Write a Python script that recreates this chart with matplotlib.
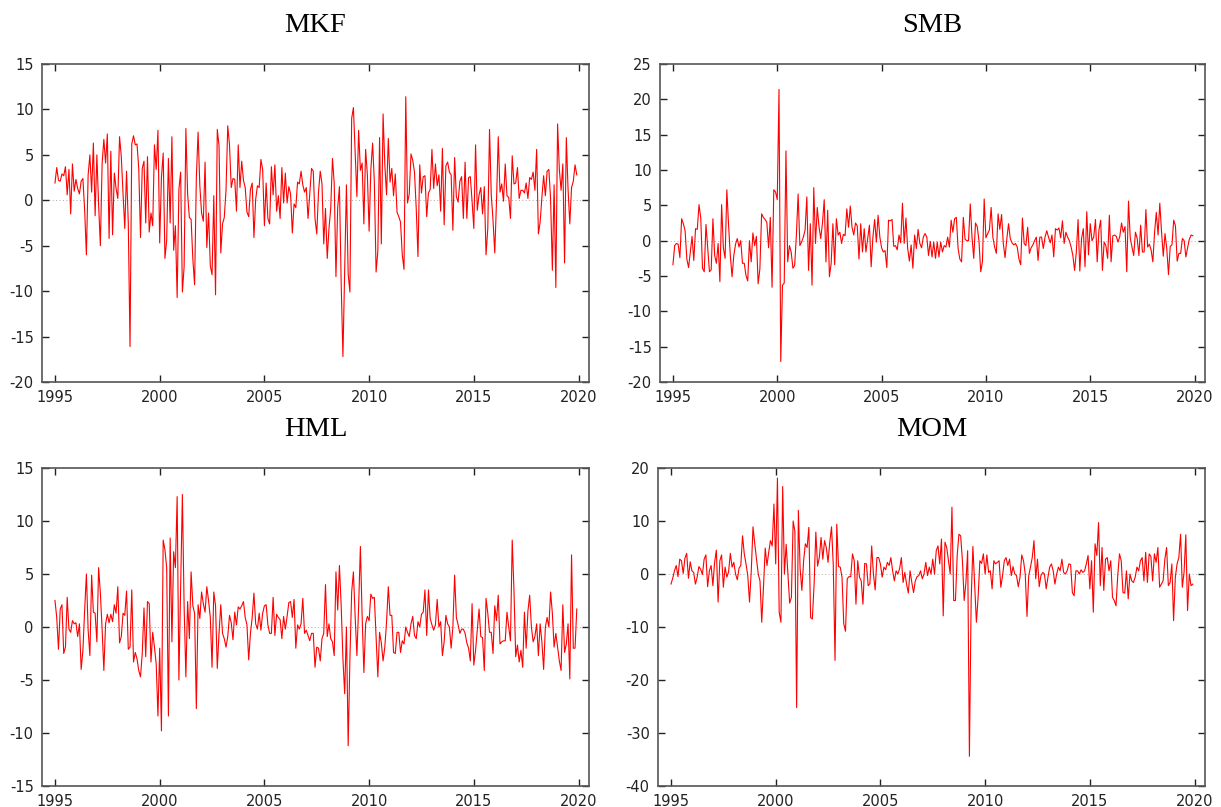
import numpy as np
import matplotlib
matplotlib.use('Agg')
import matplotlib.pyplot as plt

plt.rcParams['axes.unicode_minus'] = False

# ── Monthly factor returns, 1995:01 - 2019:12 (one row per year) ─────────────
mkf = [
    1.9, 3.6, 2.2, 2.1, 2.9, 2.7, 3.7, 0.6, 3.4, -1.5, 4.0, 1.0,
    2.3, 1.3, 0.7, 2.1, 2.4, -1.1, -6.0, 2.8, 5.0, 0.9, 6.3, -1.7,
    5.0, -0.5, -5.0, 4.0, 6.7, 4.1, 7.3, -4.2, 5.4, -3.8, 3.0, 1.3,
    0.2, 7.0, 4.8, 0.7, -3.1, 3.2, -2.5, -16.1, 6.2, 7.1, 6.1, 6.2,
    3.5, -4.1, 3.5, 4.3, -2.5, 4.8, -3.5, -1.4, -2.8, 6.1, 3.4, 7.7,
    -4.7, 2.5, 5.2, -6.4, -4.4, 4.6, -2.5, 7.0, -5.5, -2.8, -10.7, 1.2,
    3.1, -10.1, -7.3, 7.9, 0.7, -1.9, -2.1, -6.5, -9.3, 2.5, 7.5, 1.6,
    -1.4, -2.3, 4.2, -5.2, -1.4, -7.2, -8.2, 0.5, -10.4, 7.8, 6.0, -5.8,
    -2.6, -1.9, 1.1, 8.2, 6.1, 1.4, 2.4, 2.3, -1.2, 6.1, 1.4, 4.3,
    2.2, 1.4, -1.3, -1.8, 1.2, 1.9, -4.1, 0.1, 1.6, 1.4, 4.5, 3.4,
    -2.8, 1.9, -2.0, -2.6, 3.7, 0.6, 3.9, -1.2, 0.5, -2.0, 3.6, -0.3,
    3.0, -0.3, 1.5, 0.7, -3.6, -0.4, -0.8, 2.0, 1.8, 3.2, 1.7, 0.9,
    1.4, -2.0, 0.7, 3.5, 3.2, -2.0, -3.7, 0.9, 3.2, 1.8, -4.8, -0.9,
    -6.4, -3.1, -0.9, 4.6, 1.9, -8.4, -0.8, 1.5, -9.2, -17.2, -7.9, 1.7,
    -8.1, -10.1, 9.0, 10.2, 5.2, 0.4, 7.7, 3.3, 4.1, -2.6, 5.6, 2.8,
    -3.4, 3.4, 6.3, 2.0, -7.9, -5.6, 6.9, -4.8, 9.5, 3.9, 0.6, 6.8,
    2.0, 3.5, 0.5, 2.9, -1.3, -1.8, -2.4, -6.0, -7.6, 11.4, -0.3, 0.7,
    5.1, 4.4, 3.1, -0.9, -6.2, 3.9, 0.8, 2.6, 2.7, -1.8, 0.8, 1.2,
    5.6, 1.3, 4.0, 1.6, 2.8, -1.2, 5.7, -2.7, 3.8, 4.2, 3.1, 2.8,
    -3.3, 4.7, 0.4, -0.2, 2.1, 2.6, -2.0, 4.2, -2.0, 2.5, 2.6, -0.1,
    -3.1, 6.1, -1.1, 0.6, 1.4, -1.5, 1.5, -6.0, -3.1, 7.8, 0.6, -2.2,
    -5.8, -0.1, 7.0, 0.9, 1.8, -0.1, 4.0, 0.5, 0.3, -2.0, 4.9, 1.8,
    1.9, 3.6, 0.2, 1.1, 1.1, 0.8, 1.9, 0.2, 2.5, 2.3, 3.1, 1.1,
    5.6, -3.7, -2.4, 0.3, 2.7, 0.5, 3.2, 3.4, 0.1, -7.7, 1.7, -9.6,
    8.4, 3.4, 1.1, 4.0, -6.9, 6.9, 1.2, -2.6, 1.4, 2.1, 3.9, 2.8,
]

smb = [
    -3.4, -0.7, -0.4, -0.5, -2.4, 3.1, 2.4, 1.4, -2.6, -3.8, -1.6, 0.6,
    -2.8, 1.7, 1.6, 5.1, 3.2, -3.9, -4.4, 2.3, -1.1, -4.4, -4.1, 3.1,
    -2.1, -3.2, -0.4, -5.8, 5.1, -1.0, -2.5, 7.2, 2.2, -2.1, -5.1, -2.1,
    -0.5, 0.3, -0.9, 0.0, -3.2, -3.2, -4.9, -5.7, 0.0, -3.0, 1.1, -0.7,
    0.6, -6.1, -4.0, 3.8, 3.3, 3.0, 2.6, -1.0, 3.3, -6.6, 7.2, 6.9,
    5.8, 21.4, -17.1, -6.3, -6.0, 12.7, -3.0, -0.7, -1.6, -3.9, -3.5, 0.8,
    6.6, -0.7, -0.2, 0.5, 1.5, 6.2, -4.2, 2.4, -6.3, 7.5, -0.4, 4.7,
    2.0, 0.3, 2.5, 5.8, -3.0, 4.3, -5.1, -3.2, 2.4, -3.4, 3.1, 0.8,
    1.2, -0.4, 0.9, 0.7, 4.5, 1.9, 4.9, 1.9, 0.8, 2.5, 2.1, -2.6,
    2.4, -1.6, 1.7, -1.6, 0.3, 2.2, -3.7, 0.5, 3.0, -0.2, 3.6, 0.5,
    -1.0, -1.6, -1.4, -3.8, 2.9, 2.8, 3.0, -0.8, -0.7, -1.3, 0.8, -0.3,
    5.3, -0.4, 3.2, -1.1, -2.9, -0.6, -3.9, 0.8, -1.1, 1.6, -0.4, -1.0,
    0.5, 1.0, 0.5, -2.1, -0.1, -2.3, -0.2, -2.5, -0.2, -2.3, -0.2, -1.6,
    -0.7, -0.9, 0.5, -0.9, 2.9, 1.2, 3.1, 3.3, -1.1, -2.6, -3.0, 3.3,
    0.2, 0.0, 0.0, 5.2, 0.5, -2.5, 2.5, 2.0, 0.0, -4.4, -3.0, 5.9,
    0.4, 1.0, 1.5, 4.7, 0.5, -0.9, -1.8, 3.8, 1.6, 3.7, -0.4, -2.4,
    0.2, 2.4, 0.3, -0.3, -0.6, -0.4, -0.9, -2.6, -3.4, 3.2, -0.4, -0.7,
    1.9, -1.8, -1.0, -0.6, 0.0, 0.5, -2.8, 0.5, 0.5, -1.1, 0.5, 1.4,
    0.5, -0.3, 0.8, -2.3, 1.7, 1.5, 1.8, 0.4, 2.8, -0.4, 1.2, 0.5,
    0.0, -0.9, -2.1, -4.2, -1.6, 3.0, -4.3, 0.3, 1.7, -3.7, 4.1, -2.0,
    2.4, 0.0, 0.5, 3.0, -3.0, 1.5, 2.9, -4.2, -0.2, -0.7, -2.5, 3.6,
    -3.0, 0.7, 0.8, 0.6, -0.2, 0.6, 2.5, 1.2, 2.0, -4.4, 5.6, 0.4,
    -0.9, -2.1, 1.2, 0.3, -2.1, 2.2, -1.6, -1.6, 4.4, -0.9, -0.5, -1.3,
    -3.0, 1.2, 4.0, 0.8, 5.3, 1.3, -2.2, 1.0, -1.1, -4.8, -0.8, -0.6,
    2.9, 2.1, -2.9, -1.8, -1.8, 0.3, 0.0, -2.3, -1.0, 0.2, 0.8, 0.7,
]

hml = [
    2.5, 0.9, -2.1, 1.7, 2.1, -2.5, -1.9, 2.8, -0.2, -0.5, 0.6, 0.3,
    0.4, -0.9, 0.3, -4.0, -2.2, 1.6, 5.0, -0.3, -2.7, 4.9, 1.4, 1.3,
    -1.4, 5.6, 3.2, -0.2, -4.1, 0.3, 1.2, 0.4, 1.2, 0.5, 2.1, 1.3,
    3.8, -1.5, -0.9, 1.3, 1.1, 3.4, -2.1, -1.9, 3.5, -3.3, -2.4, -3.0,
    -4.1, -4.7, -2.5, 1.8, -2.8, 2.4, 2.2, -3.3, -0.5, -1.9, -3.5, -8.4,
    -2.0, -9.8, 8.2, 7.3, 5.6, -8.4, 8.4, -1.4, 7.1, 5.6, 12.3, -5.0,
    4.0, 12.5, 1.9, -4.7, 2.4, -1.1, 5.2, 2.0, 1.3, -7.7, 2.1, 0.8,
    3.3, 2.2, 1.4, 3.8, 2.5, 0.9, -3.8, 3.3, 2.0, -3.9, -0.6, 2.1,
    -0.6, -1.1, -1.9, -0.9, 1.1, 0.4, -1.2, 1.4, 0.2, 1.9, 1.7, 2.0,
    2.4, 0.9, 0.2, -3.1, -0.6, 0.9, 3.2, 0.3, -0.2, 1.3, -0.3, 1.3,
    2.0, 2.1, 0.2, -0.6, -0.6, 2.8, -0.8, 1.2, 0.9, 0.7, -1.1, 1.0,
    -0.2, 1.0, 2.3, 2.4, 0.9, 2.6, -2.0, 0.2, -0.2, 0.3, 2.7, -0.6,
    -0.3, -0.8, -1.3, -0.6, -0.6, -3.8, -1.9, -2.0, -3.2, -1.1, -0.6, 4.0,
    -0.9, 0.3, -1.1, -1.4, -2.7, 5.2, 1.6, 5.8, 2.0, -3.0, -6.3, 0.0,
    -11.2, -3.0, 3.3, 5.2, 1.0, -2.7, 2.0, 7.6, 1.0, -4.3, 0.3, 1.0,
    0.6, 3.1, 2.7, 2.8, -1.0, -4.7, -0.5, -1.5, -3.2, -1.9, 0.5, 3.8,
    1.1, 1.1, -2.4, -2.5, -0.5, -0.5, -2.4, -1.3, -1.6, 0.0, -0.5, -0.9,
    0.3, 1.0, -0.8, -1.1, 0.5, 0.0, 1.2, 1.4, 3.5, -0.8, 3.5, 0.8,
    0.2, -0.3, 0.2, 2.6, 0.0, 0.5, -2.7, -1.4, 1.1, 0.3, 0.0, -2.0,
    0.0, 4.9, 0.9, 0.2, -0.6, -0.2, -0.2, -0.6, -1.5, -2.0, -3.2, 2.2,
    -3.6, -2.2, -0.3, 1.7, -0.9, -1.0, -4.1, 2.7, 1.3, -0.5, -0.5, -2.5,
    2.0, 0.6, 3.0, -1.6, -1.4, -1.3, -1.3, 1.4, 0.0, -1.3, 8.2, 3.5,
    -2.8, -1.7, -3.3, -2.2, -3.8, 1.4, -2.0, 1.5, 3.0, 0.0, -1.4, -0.9,
    0.3, -2.7, 0.3, -1.4, -4.0, 0.0, 0.9, 0.0, 3.3, 1.3, -1.9, -0.6,
    -1.9, -3.2, -4.1, 2.1, -2.4, -1.6, 0.3, -4.9, 6.8, -2.0, -2.0, 1.7,
]

mom = [
    -1.9, -0.8, 0.6, 1.6, -0.5, 2.8, 2.5, 0.1, 3.0, 3.9, -0.8, 2.3,
    0.6, 0.3, -1.9, -0.6, 1.4, 0.9, -0.1, 2.8, 3.6, -2.4, 0.6, 1.6,
    -2.2, 2.2, 4.5, -5.3, 2.5, 3.6, -2.5, 1.3, -0.6, 0.4, 3.9, 1.3,
    2.2, 0.0, -1.1, 1.1, 1.6, 7.2, 3.8, 1.9, -0.3, -5.3, 0.6, 8.9,
    5.7, 2.8, 0.0, -1.3, -9.1, -2.5, 4.9, 1.6, 4.1, 6.3, 5.3, 13.2,
    1.9, 18.1, -7.2, -9.1, 16.5, 0.0, 5.6, 0.0, -5.5, -4.4, 10.0, 8.0,
    -25.2, 12.0, 1.0, -3.1, 2.5, 5.7, 5.0, 8.8, -8.2, -8.5, -2.0, 7.9,
    1.5, 3.1, 6.9, 2.8, 6.3, 5.0, 2.2, 6.0, 8.9, 1.6, -16.3, 9.4,
    1.4, 1.3, -0.6, -9.4, -10.8, -0.9, -0.5, -0.5, 3.8, 2.5, -5.7, 2.5,
    -0.6, -1.3, -5.7, 2.0, 1.9, -2.2, -1.8, 5.3, 0.0, -3.0, 3.1, 3.1,
    1.9, -0.6, 1.3, 0.8, 2.2, 1.6, 3.1, 0.6, -1.3, 0.6, 0.0, 1.0,
    3.1, -1.6, 0.3, -1.9, -3.6, 0.6, -1.6, -3.5, -1.3, -0.5, -0.3, 0.6,
    -0.9, 0.0, 2.2, -0.3, 1.3, 0.0, 2.8, 0.0, 4.4, 5.3, 1.9, 6.6,
    -7.9, 6.0, 5.0, 2.5, 0.0, 12.6, -5.0, -5.0, 3.5, 7.5, 7.2, 2.5,
    -5.0, -1.6, 4.4, -34.4, -5.0, 5.2, -2.0, -9.1, -4.4, 2.5, 2.0, 3.8,
    0.0, 3.6, 0.3, 0.6, -2.8, 2.5, 1.9, 2.2, 2.5, -2.5, -0.3, 2.5,
    3.1, 1.6, 2.8, -0.3, 1.4, 0.0, -0.3, -2.4, -0.6, 3.6, 2.5, 0.0,
    -8.0, -0.3, 1.3, 3.1, 6.3, -0.9, 2.8, -2.4, -0.3, 0.3, 0.0, -2.8,
    -0.6, 1.3, 1.9, 0.6, -1.9, 0.0, 1.3, 0.6, 2.8, 0.3, 0.0, 0.6,
    1.9, 1.8, -3.5, -4.1, 0.6, 0.6, 0.0, 0.8, 0.3, 0.6, 1.9, 3.5,
    -2.8, 2.5, -7.2, 5.7, 3.5, 9.7, -2.2, 5.0, -3.1, 2.8, 3.1, 0.6,
    2.5, -4.4, -5.0, -6.0, -0.3, 3.8, 2.5, -3.5, -3.6, 0.6, -4.7, 0.0,
    -1.3, -1.6, -0.6, 1.3, 0.6, 2.5, 3.1, -1.3, 4.1, -1.6, 3.8, 3.3,
    -1.3, 3.8, 2.2, 5.0, -2.5, -1.9, -1.3, 2.8, 5.0, -2.2, -1.6, 1.9,
    -8.8, -0.6, 1.9, 3.1, 7.5, -2.5, 0.3, 7.4, -6.9, 0.0, -2.2, -1.9,
]

titles = ['MKF', 'SMB', 'HML', 'MOM']
series = [mkf, smb, hml, mom]
ylims = [(-20, 15), (-20, 25), (-15, 15), (-40, 20)]
ysteps = [5, 5, 5, 10]
xticks = [1995, 2000, 2005, 2010, 2015, 2020]

# time axis: monthly from 1995:01
t = 1995 + np.arange(len(mkf)) / 12.0

W, H = 1221, 807
fig = plt.figure(figsize=(W / 100, H / 100), dpi=100)

# axes boxes in pixels: left, top, right, bottom
boxes = [
    (42, 64, 589, 382),
    (660, 64, 1205, 382),
    (42, 468, 589, 786),
    (658, 468, 1205, 786),
]

for (l, tp, r, b), name, vals, yl, ys in zip(boxes, titles, series, ylims, ysteps):
    ax = fig.add_axes([l / W, 1 - b / H, (r - l) / W, (b - tp) / H])
    ax.plot(t, vals, color='#ff0000', lw=0.8)
    ax.axhline(0, color='#aaaaaa', lw=0.7, ls=(0, (1, 2.5)), zorder=0)
    ax.set_xlim(1994.38, 2020.5)
    ax.set_ylim(*yl)
    ax.set_xticks(xticks)
    ax.set_yticks(np.arange(yl[0], yl[1] + 0.1, ys))
    ax.tick_params(direction='in', length=5, width=1, top=True, right=True,
                   labelsize=10.5, colors='#222222', pad=6)
    for s in ax.spines.values():
        s.set_color('#555555')
        s.set_linewidth(1.2)
    ax.set_title(name, fontsize=20.5, family='Liberation Serif', pad=23)

plt.savefig('out.png', dpi=100)
